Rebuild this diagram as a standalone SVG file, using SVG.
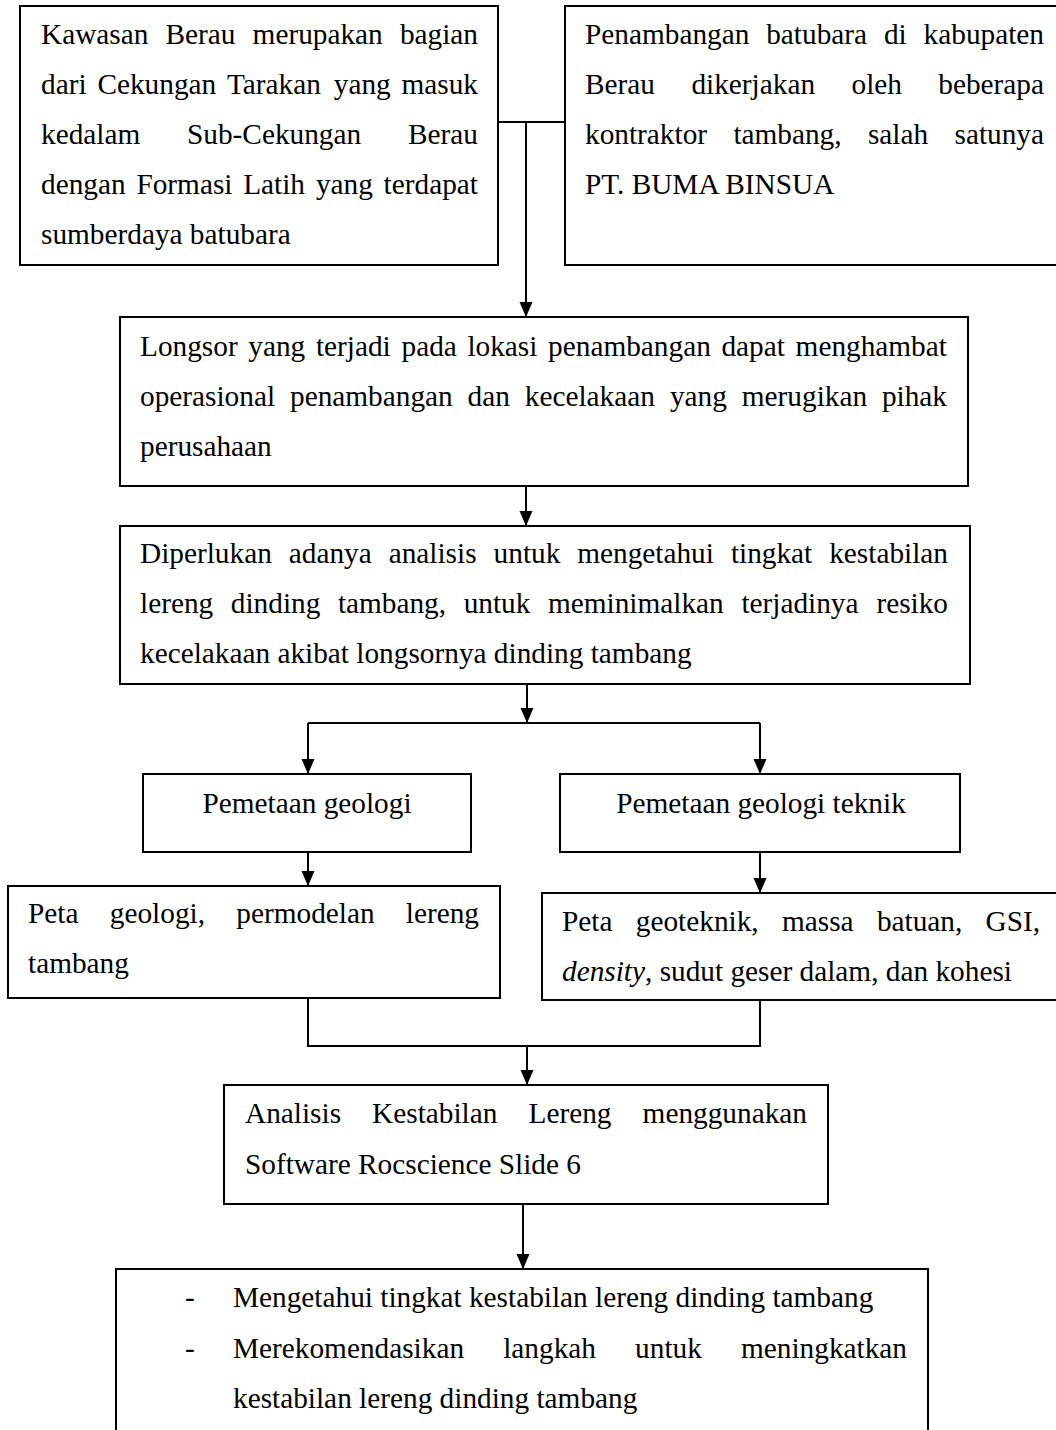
<svg xmlns="http://www.w3.org/2000/svg" width="1056" height="1430" viewBox="0 0 1056 1430">
<style>
.box{fill:#fff;stroke:#000;stroke-width:2}
.t{font-family:"Liberation Serif","Times New Roman",serif;font-size:29.3px;fill:#000}
.c{text-anchor:middle}
.ln{fill:none;stroke:#000;stroke-width:2}
</style>
<defs>
<marker id="ah" markerUnits="userSpaceOnUse" markerWidth="16" markerHeight="14" refX="15" refY="7" orient="auto">
<path d="M0,0.5 L15,7 L0,13.5 z" fill="#000"/>
</marker>
</defs>
<rect width="1056" height="1430" fill="#fff"/>
<g id="connectors">
<path class="ln" d="M498,122 H565"/>
<path class="ln" d="M526,122 V317" marker-end="url(#ah)"/>
<path class="ln" d="M526,486 V526" marker-end="url(#ah)"/>
<path class="ln" d="M527,684 V723" marker-end="url(#ah)"/>
<path class="ln" d="M308,723 H760"/>
<path class="ln" d="M308,723 V774" marker-end="url(#ah)"/>
<path class="ln" d="M760,723 V774" marker-end="url(#ah)"/>
<path class="ln" d="M308,852 V886" marker-end="url(#ah)"/>
<path class="ln" d="M760,852 V893" marker-end="url(#ah)"/>
<path class="ln" d="M308,998 V1046 H760 V1000"/>
<path class="ln" d="M527,1046 V1085" marker-end="url(#ah)"/>
<path class="ln" d="M523,1204 V1269" marker-end="url(#ah)"/>
</g>
<g id="n1">
<rect class="box" x="20" y="6" width="478" height="259"/>
<text class="t" y="44"><tspan x="41">Kawasan</tspan><tspan x="165.5">Berau</tspan><tspan x="252.6">merupakan</tspan><tspan x="399.9">bagian</tspan></text>
<text class="t" y="94"><tspan x="41">dari</tspan><tspan x="97.4">Cekungan</tspan><tspan x="227">Tarakan</tspan><tspan x="333.8">yang</tspan><tspan x="401.5">masuk</tspan></text>
<text class="t" y="144"><tspan x="41">kedalam</tspan><tspan x="187">Sub-Cekungan</tspan><tspan x="408">Berau</tspan></text>
<text class="t" y="194"><tspan x="41">dengan</tspan><tspan x="136.4">Formasi</tspan><tspan x="243.2">Latih</tspan><tspan x="315.9">yang</tspan><tspan x="383.6">terdapat</tspan></text>
<text class="t" x="41" y="244">sumberdaya batubara</text>
</g>
<g id="n2">
<rect class="box" x="565" y="6" width="500" height="259"/>
<text class="t" y="44"><tspan x="585">Penambangan</tspan><tspan x="766.2">batubara</tspan><tspan x="883.9">di</tspan><tspan x="923.6">kabupaten</tspan></text>
<text class="t" y="94"><tspan x="585">Berau</tspan><tspan x="691.4">dikerjakan</tspan><tspan x="851.5">oleh</tspan><tspan x="938.3">beberapa</tspan></text>
<text class="t" y="144"><tspan x="585">kontraktor</tspan><tspan x="733.4">tambang,</tspan><tspan x="867.9">salah</tspan><tspan x="954.5">satunya</tspan></text>
<text class="t" x="585" y="194">PT. BUMA BINSUA</text>
</g>
<g id="n3">
<rect class="box" x="120" y="317" width="848" height="169"/>
<text class="t" y="356"><tspan x="140">Longsor</tspan><tspan x="248.3">yang</tspan><tspan x="315.9">terjadi</tspan><tspan x="401.5">pada</tspan><tspan x="467.4">lokasi</tspan><tspan x="548.1">penambangan</tspan><tspan x="721.4">dapat</tspan><tspan x="795.6">menghambat</tspan></text>
<text class="t" y="406"><tspan x="140">operasional</tspan><tspan x="290">penambangan</tspan><tspan x="467.6">dan</tspan><tspan x="524.8">kecelakaan</tspan><tspan x="669.9">yang</tspan><tspan x="741.8">merugikan</tspan><tspan x="881.9">pihak</tspan></text>
<text class="t" x="140" y="456">perusahaan</text>
</g>
<g id="n4">
<rect class="box" x="120" y="526" width="850" height="158"/>
<text class="t" y="563"><tspan x="140">Diperlukan</tspan><tspan x="288.8">adanya</tspan><tspan x="388.7">analisis</tspan><tspan x="493.6">untuk</tspan><tspan x="577.2">mengetahui</tspan><tspan x="730.9">tingkat</tspan><tspan x="829.2">kestabilan</tspan></text>
<text class="t" y="613"><tspan x="140">lereng</tspan><tspan x="230.8">dinding</tspan><tspan x="337.9">tambang,</tspan><tspan x="463.7">untuk</tspan><tspan x="548">meminimalkan</tspan><tspan x="741.4">terjadinya</tspan><tspan x="876.4">resiko</tspan></text>
<text class="t" x="140" y="663">kecelakaan akibat longsornya dinding tambang</text>
</g>
<g id="n5">
<rect class="box" x="143" y="774" width="328" height="78"/>
<text class="t c" x="307" y="813">Pemetaan geologi</text>
</g>
<g id="n6">
<rect class="box" x="560" y="774" width="400" height="78"/>
<text class="t c" x="761" y="813">Pemetaan geologi teknik</text>
</g>
<g id="n7">
<rect class="box" x="8" y="886" width="492" height="112"/>
<text class="t" y="923"><tspan x="28">Peta</tspan><tspan x="109.8">geologi,</tspan><tspan x="236.3">permodelan</tspan><tspan x="405.8">lereng</tspan></text>
<text class="t" x="28" y="973">tambang</text>
</g>
<g id="n8">
<rect class="box" x="542" y="893" width="520" height="107"/>
<text class="t" y="931"><tspan x="562">Peta</tspan><tspan x="635.8">geoteknik,</tspan><tspan x="782">massa</tspan><tspan x="876.9">batuan,</tspan><tspan x="985.5">GSI,</tspan></text>
<text class="t" x="562" y="981"><tspan font-style="italic">density</tspan>, sudut geser dalam, dan kohesi</text>
</g>
<g id="n9">
<rect class="box" x="224" y="1085" width="604" height="119"/>
<text class="t" y="1123"><tspan x="245">Analisis</tspan><tspan x="372.1">Kestabilan</tspan><tspan x="528.5">Lereng</tspan><tspan x="642.6">menggunakan</tspan></text>
<text class="t" x="245" y="1174">Software Rocscience Slide 6</text>
</g>
<g id="n10">
<rect class="box" x="116" y="1269" width="812" height="175"/>
<text class="t" x="185" y="1307">-</text>
<text class="t" x="233" y="1307">Mengetahui tingkat kestabilan lereng dinding tambang</text>
<text class="t" x="185" y="1358">-</text>
<text class="t" y="1358"><tspan x="233">Merekomendasikan</tspan><tspan x="503.2">langkah</tspan><tspan x="635.1">untuk</tspan><tspan x="741">meningkatkan</tspan></text>
<text class="t" x="233" y="1408">kestabilan lereng dinding tambang</text>
</g>
</svg>
